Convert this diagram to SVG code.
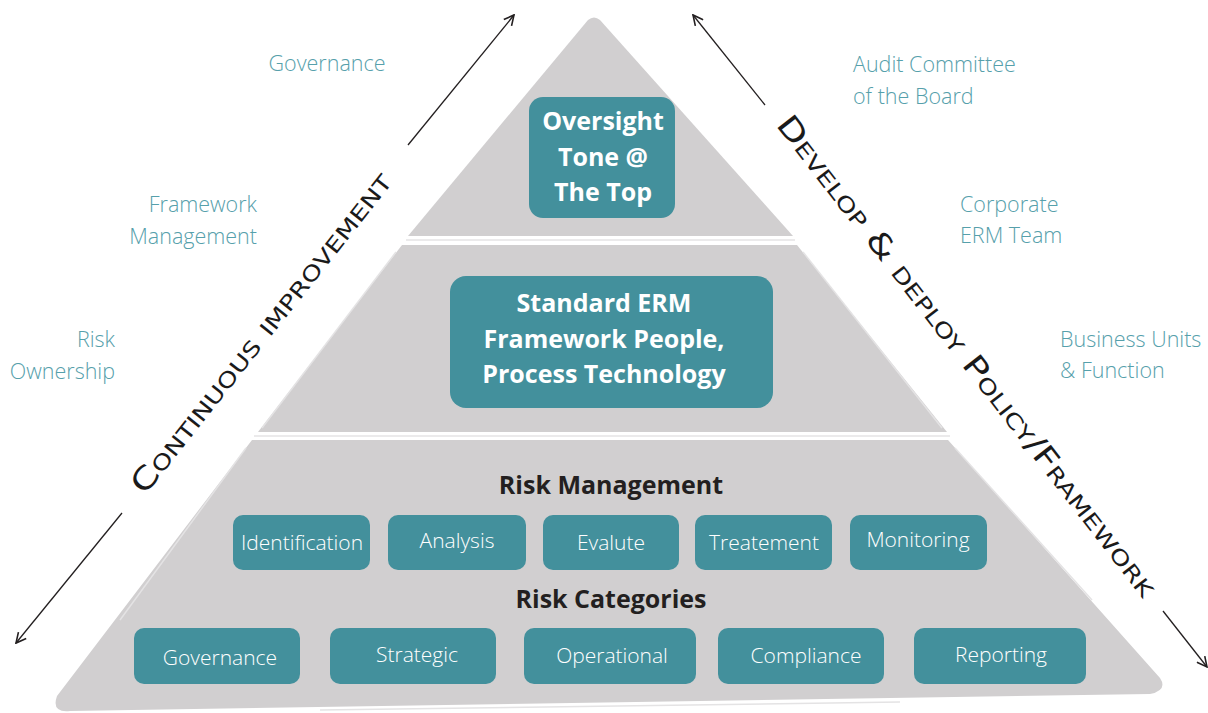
<svg xmlns="http://www.w3.org/2000/svg" width="1208" height="713" viewBox="0 0 1208 713">
<defs>
<style>
.tier{fill:#d1cfd0}
.edge{fill:none;stroke:#e4e3e4;stroke-width:1.5}
.box{fill:#43909c}
.hd{font-family:"Open Sans","Liberation Sans",sans-serif;font-weight:700;fill:#ffffff;font-size:25px;text-anchor:middle}
.lb{font-family:"Open Sans","Liberation Sans",sans-serif;font-weight:300;fill:#ffffff;font-size:21px;text-anchor:middle}
.sec{font-family:"Open Sans","Liberation Sans",sans-serif;font-weight:700;fill:#231f20;font-size:25px;text-anchor:middle}
.side{font-family:"Open Sans","Liberation Sans",sans-serif;font-weight:300;fill:#56a0ab;font-size:21.5px}
.hand{font-family:"DejaVu Sans","Liberation Sans",sans-serif;font-variant:small-caps;fill:#1a1a1a;font-size:30px;text-anchor:middle}
.arr{fill:none;stroke:#231f20;stroke-width:1.3}
</style>
<marker id="ah" viewBox="0 0 12 12" refX="11" refY="6" markerWidth="12" markerHeight="12" markerUnits="userSpaceOnUse" orient="auto">
<path d="M1,1 L11,6 L1,11" fill="none" stroke="#231f20" stroke-width="1.6"/>
</marker>
</defs>

<g id="pyramid">
<path class="tier" d="M588,20 Q594,15 600,20 L793,236 L408,236 Z"/>
<line class="edge" x1="406" y1="240" x2="795" y2="240"/>
<path class="tier" d="M402,245 L797,245 L947,432 L258,432 Z"/>
<line class="edge" x1="254" y1="436" x2="950" y2="436"/>
<path class="tier" d="M252,440 L948,440 L1160,678 Q1168,690 1150,694 L70,711 Q51,713 57,696 Z"/>
<line class="edge" x1="396" y1="252" x2="262" y2="428"/>
<line class="edge" x1="803" y1="252" x2="942" y2="428"/>
<line class="edge" x1="246" y1="448" x2="120" y2="620"/>
<line class="edge" x1="955" y1="448" x2="1092" y2="600"/>
<line class="edge" x1="320" y1="710" x2="900" y2="702"/>
</g>

<g id="top-box">
<rect class="box" x="529" y="97" width="146" height="121" rx="14"/>
<text class="hd" x="603" y="130">Oversight</text>
<text class="hd" x="603" y="166">Tone @</text>
<text class="hd" x="603" y="201">The Top</text>
</g>

<g id="middle-box">
<rect class="box" x="450" y="276" width="323" height="132" rx="16"/>
<text class="hd" x="604" y="312">Standard ERM</text>
<text class="hd" x="604" y="348">Framework People,</text>
<text class="hd" x="604" y="383">Process Technology</text>
</g>

<g id="risk-management">
<text class="sec" x="611" y="494">Risk Management</text>
<rect class="box" x="233" y="515" width="137" height="55" rx="10"/>
<text class="lb" x="302" y="550">Identification</text>
<rect class="box" x="388" y="515" width="138" height="55" rx="10"/>
<text class="lb" x="457" y="548">Analysis</text>
<rect class="box" x="543" y="515" width="136" height="55" rx="10"/>
<text class="lb" x="611" y="550">Evalute</text>
<rect class="box" x="695" y="515" width="137" height="55" rx="10"/>
<text class="lb" x="764" y="550">Treatement</text>
<rect class="box" x="850" y="515" width="137" height="55" rx="10"/>
<text class="lb" x="918" y="547">Monitoring</text>
</g>

<g id="risk-categories">
<text class="sec" x="611" y="608">Risk Categories</text>
<rect class="box" x="134" y="628" width="166" height="56" rx="10"/>
<text class="lb" x="220" y="665">Governance</text>
<rect class="box" x="330" y="628" width="166" height="56" rx="10"/>
<text class="lb" x="417" y="662">Strategic</text>
<rect class="box" x="524" y="628" width="172" height="56" rx="10"/>
<text class="lb" x="612" y="663">Operational</text>
<rect class="box" x="718" y="628" width="166" height="56" rx="10"/>
<text class="lb" x="806" y="663">Compliance</text>
<rect class="box" x="914" y="628" width="172" height="56" rx="10"/>
<text class="lb" x="1001" y="662">Reporting</text>
</g>

<g id="side-labels-left">
<text class="side" x="327" y="71" text-anchor="middle">Governance</text>
<text class="side" x="257" y="212" text-anchor="end">Framework</text>
<text class="side" x="257" y="244" text-anchor="end">Management</text>
<text class="side" x="115" y="347" text-anchor="end">Risk</text>
<text class="side" x="115" y="379" text-anchor="end">Ownership</text>
</g>

<g id="side-labels-right">
<text class="side" x="853" y="72">Audit Committee</text>
<text class="side" x="853" y="104">of the Board</text>
<text class="side" x="960" y="212">Corporate</text>
<text class="side" x="960" y="243">ERM Team</text>
<text class="side" x="1060" y="347">Business Units</text>
<text class="side" x="1060" y="378">&amp; Function</text>
</g>

<g id="hand-labels">
<text class="hand" transform="translate(269,339) rotate(-51.6)" textLength="400" lengthAdjust="spacingAndGlyphs">Continuous improvement</text>
<text class="hand" transform="translate(959,362) rotate(52.2)" textLength="600" lengthAdjust="spacingAndGlyphs">Develop &amp; deploy Policy/Framework</text>
</g>

<g id="connectors">
<line class="arr" x1="408" y1="145" x2="514" y2="15" marker-end="url(#ah)"/>
<line class="arr" x1="765" y1="105" x2="693" y2="15" marker-end="url(#ah)"/>
<line class="arr" x1="122" y1="513" x2="16" y2="643" marker-end="url(#ah)"/>
<line class="arr" x1="1163" y1="611" x2="1207" y2="667" marker-end="url(#ah)"/>
</g>
</svg>
